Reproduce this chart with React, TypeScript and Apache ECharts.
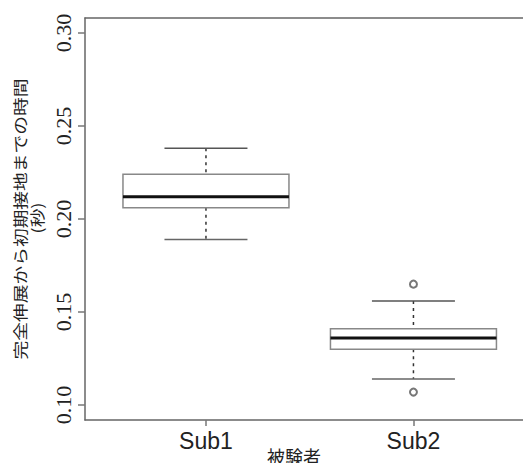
import React, { useEffect, useRef } from "react";
import * as echarts from "echarts";

const categories = ["Sub1", "Sub2"];
const lowerWhisker = [0.189, 0.114];
const q1 = [0.206, 0.130];
const median = [0.212, 0.136];
const q3 = [0.224, 0.141];
const upperWhisker = [0.238, 0.156];
const outlierCategory = ["Sub2", "Sub2"];
const outlierValues = [0.165, 0.107];
const yTicks = [0.1, 0.15, 0.2, 0.25, 0.3];
const yTitle = "完全伸展から初期接地までの時間";
const yTitle2 = "(秒)";
const xTitle = "被験者";

export default function App() {
  const ref = useRef<HTMLDivElement>(null);
  useEffect(() => {
    if (!ref.current) return;
    const chart = echarts.init(ref.current, null, { renderer: "svg" });
    const boxData = categories.map((c, i) => [
      i + 1,
      lowerWhisker[i],
      q1[i],
      median[i],
      q3[i],
      upperWhisker[i],
    ]);
    const outData = outlierCategory.map((c, i) => [
      categories.indexOf(c) + 1,
      outlierValues[i],
    ]);
    const frameLine = { show: true, lineStyle: { color: "#666", width: 1.5 } };
    chart.setOption({
      animation: false,
      grid: {
        left: 85,
        right: 0,
        top: 18,
        bottom: 43,
        show: false,
      },
      xAxis: [
        {
          type: "value",
          min: 0.417,
          max: 2.528,
          axisLine: frameLine,
          splitLine: { show: false },
          axisTick: {
            show: true,
            customValues: [1, 2],
            length: 6,
            lineStyle: { color: "#777", width: 1.5 },
          },
          axisLabel: {
            customValues: [1, 2],
            formatter: (v: number) => categories[Math.round(v) - 1] ?? "",
            fontSize: 23,
            fontFamily: "Liberation Sans",
            color: "#222",
            margin: 9,
          },
        },
        {
          type: "value",
          position: "top",
          min: 0.417,
          max: 2.528,
          axisLine: frameLine,
          splitLine: { show: false },
          axisTick: { show: false },
          axisLabel: { show: false },
        },
      ],
      yAxis: {
        type: "value",
        min: 0.092,
        max: 0.308,
        axisLine: frameLine,
        splitLine: { show: false },
        axisTick: {
          show: true,
          customValues: yTicks,
          length: 7,
          lineStyle: { color: "#777", width: 1.5 },
        },
        axisLabel: {
          customValues: yTicks,
          rotate: 90,
          formatter: (v: number) => v.toFixed(2),
          fontSize: 22,
          fontFamily: "Liberation Sans Narrow",
          color: "#222",
          margin: 11,
        },
      },
      series: [
        {
          type: "custom",
          data: boxData,
          xAxisIndex: 0,
          encode: { x: 0, y: [1, 2, 3, 4, 5] },
          renderItem: (params: any, api: any) => {
            const x = api.value(0);
            const lo = api.value(1);
            const b1 = api.value(2);
            const md = api.value(3);
            const b3 = api.value(4);
            const hi = api.value(5);
            const hw = api.size([0.4, 0])[0];
            const cw = api.size([0.2, 0])[0];
            const pLo = api.coord([x, lo]);
            const p1 = api.coord([x, b1]);
            const pM = api.coord([x, md]);
            const p3 = api.coord([x, b3]);
            const pHi = api.coord([x, hi]);
            const cx = pM[0];
            const dash = { stroke: "#333", lineWidth: 1.5, lineDash: [3, 4] };
            return {
              type: "group",
              children: [
                { type: "line", shape: { x1: cx, y1: pHi[1], x2: cx, y2: p3[1] }, style: dash },
                { type: "line", shape: { x1: cx, y1: p1[1], x2: cx, y2: pLo[1] }, style: dash },
                { type: "line", shape: { x1: cx - cw, y1: pHi[1], x2: cx + cw, y2: pHi[1] }, style: { stroke: "#555", lineWidth: 1.5 } },
                { type: "line", shape: { x1: cx - cw, y1: pLo[1], x2: cx + cw, y2: pLo[1] }, style: { stroke: "#666", lineWidth: 1.5 } },
                {
                  type: "rect",
                  shape: { x: cx - hw, y: p3[1], width: 2 * hw, height: p1[1] - p3[1] },
                  style: { fill: "#fff", stroke: "#888", lineWidth: 1.5 },
                },
                { type: "line", shape: { x1: cx - hw, y1: pM[1], x2: cx + hw, y2: pM[1] }, style: { stroke: "#111", lineWidth: 3 } },
              ],
            };
          },
        },
        {
          type: "scatter",
          xAxisIndex: 0,
          data: outData,
          symbol: "emptyCircle",
          symbolSize: 7,
          itemStyle: { color: "#555", borderColor: "#555", borderWidth: 1.5 },
        },
      ],
      graphic: [
        {
          type: "text",
          x: 19,
          y: 219,
          rotation: Math.PI / 2,
          scaleX: 1.25,
          style: {
            text: yTitle,
            fontSize: 15,
            fontFamily: "Noto Sans CJK JP",
            fill: "#222",
            align: "center",
            verticalAlign: "middle",
          },
        },
        {
          type: "text",
          x: 36,
          y: 218,
          rotation: Math.PI / 2,
          scaleX: 1.25,
          style: {
            text: yTitle2,
            fontSize: 15,
            fontFamily: "Noto Sans CJK JP",
            fill: "#222",
            align: "center",
            verticalAlign: "middle",
          },
        },
        {
          type: "text",
          x: 294,
          y: 446,
          scaleY: 1.1,
          style: {
            text: xTitle,
            fontSize: 18,
            fontFamily: "Noto Sans CJK JP",
            fill: "#222",
            align: "center",
            verticalAlign: "top",
          },
        },
      ],
    });
    return () => chart.dispose();
  }, []);
  return (
    <div
      ref={ref}
      style={{ position: "fixed", left: 0, top: 0, width: 523, height: 463, background: "#fff" }}
    />
  );
}
